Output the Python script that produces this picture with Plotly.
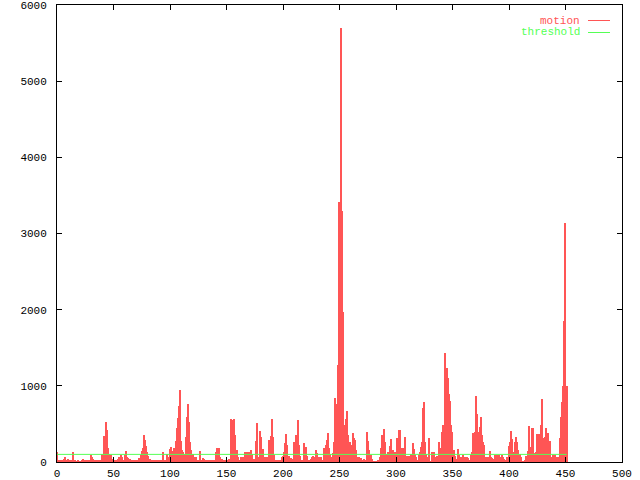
import plotly.graph_objects as go

motion = [
    135,30,20,30,20,25,40,70,30,20,
    40,30,20,25,135,20,15,10,10,15,
    10,10,20,40,15,10,15,20,15,30,
    90,70,40,25,20,30,20,25,20,30,
    100,60,345,525,420,180,100,20,90,40,
    30,15,20,15,40,60,70,90,60,30,
    90,145,60,50,30,40,15,10,15,20,
    10,30,25,50,90,150,180,360,290,210,
    130,80,40,25,30,20,25,15,20,15,
    20,25,15,10,125,20,15,110,30,60,
    170,195,80,145,180,275,450,580,740,945,
    275,160,135,100,330,590,760,530,265,160,
    100,60,40,70,30,25,30,145,20,50,
    40,20,30,20,30,20,30,15,20,30,
    20,135,180,180,60,30,40,30,20,30,
    20,30,40,30,565,495,550,565,355,160,
    60,30,20,60,70,60,125,90,125,90,
    125,80,160,100,40,20,275,510,20,60,
    405,330,170,40,70,60,40,70,290,340,
    565,330,90,20,10,20,20,15,20,70,
    80,125,245,365,225,85,30,50,40,30,
    260,245,355,545,225,80,20,20,30,245,
    200,80,30,30,20,40,60,80,60,160,
    120,40,60,40,60,30,180,150,225,290,
    380,180,100,60,120,260,845,760,485,1275,
    3420,5700,3300,1970,485,355,565,670,355,265,
    225,115,375,310,290,160,70,60,50,50,
    20,10,40,30,400,275,160,80,90,40,
    10,10,10,10,30,20,60,180,355,435,
    265,100,20,135,135,210,300,160,55,135,
    90,310,265,420,420,190,190,190,330,55,
    80,60,80,100,100,255,170,90,60,20,
    90,135,200,265,715,790,265,100,60,310,
    10,5,125,60,125,70,80,80,265,70,
    180,400,485,1425,1230,1240,1100,890,805,485,
    400,160,80,40,30,170,90,30,60,90,
    30,60,20,60,55,20,90,125,380,235,
    400,865,630,400,465,595,355,260,225,70,
    70,60,70,145,60,50,40,30,90,90,
    40,90,10,60,90,60,40,30,60,10,
    210,260,405,300,135,260,330,265,160,80,
    100,60,10,5,20,80,60,145,475,200,
    440,440,115,60,135,365,225,365,485,825,
    225,310,330,440,355,375,275,70,20,90,
    80,90,60,60,30,310,595,790,1000,1850,
    3140,1000,
]
frames = list(range(len(motion)))
threshold_value = 100
threshold = [threshold_value] * len(frames)

RED = "#ff5555"
GREEN = "#55ff55"
FONT = "Liberation Mono"

fig = go.Figure()
fig.add_trace(go.Bar(x=frames, y=motion, width=1, name="motion",
                     marker=dict(color=RED, line=dict(width=0))))
fig.add_trace(go.Scatter(x=frames, y=threshold, mode="lines", name="threshold",
                         line=dict(color=GREEN, width=1)))

axis_common = dict(showline=True, linecolor="black", linewidth=1, mirror="ticks",
                   ticks="inside", ticklen=5, tickcolor="black", tickwidth=1,
                   showgrid=False, zeroline=False, automargin=False,
                   ticklabeloverflow="allow",
                   tickfont=dict(family=FONT, size=11, color="black"))
fig.update_xaxes(range=[0, 500], tick0=0, dtick=50, ticklabelstandoff=1, **axis_common)
fig.update_yaxes(range=[0, 6000], tick0=0, dtick=1000, ticklabelstandoff=7, **axis_common)

# gnuplot-style key: text then line sample
for name, color, ypx in [("motion", RED, 20.5), ("threshold", GREEN, 32.5)]:
    yp = (462 - ypx) / 457
    fig.add_annotation(x=(581 - 57) / 565, y=yp, xref="paper", yref="paper",
                       text=name, showarrow=False, xanchor="right", yanchor="middle",
                       borderpad=0,
                       font=dict(family=FONT, size=11, color=color))
    fig.add_shape(type="line", xref="paper", yref="paper",
                  x0=(588 - 57) / 565, x1=(610 - 57) / 565, y0=yp, y1=yp,
                  line=dict(color=color, width=1))

fig.update_layout(width=640, height=480, plot_bgcolor="white", paper_bgcolor="white",
                  margin=dict(l=57, r=18, t=5, b=18, pad=0), bargap=0,
                  showlegend=False)
fig.write_html("out.html", config={"displayModeBar": False},
               post_script="document.body.style.margin='0';document.body.style.overflow='hidden';")
